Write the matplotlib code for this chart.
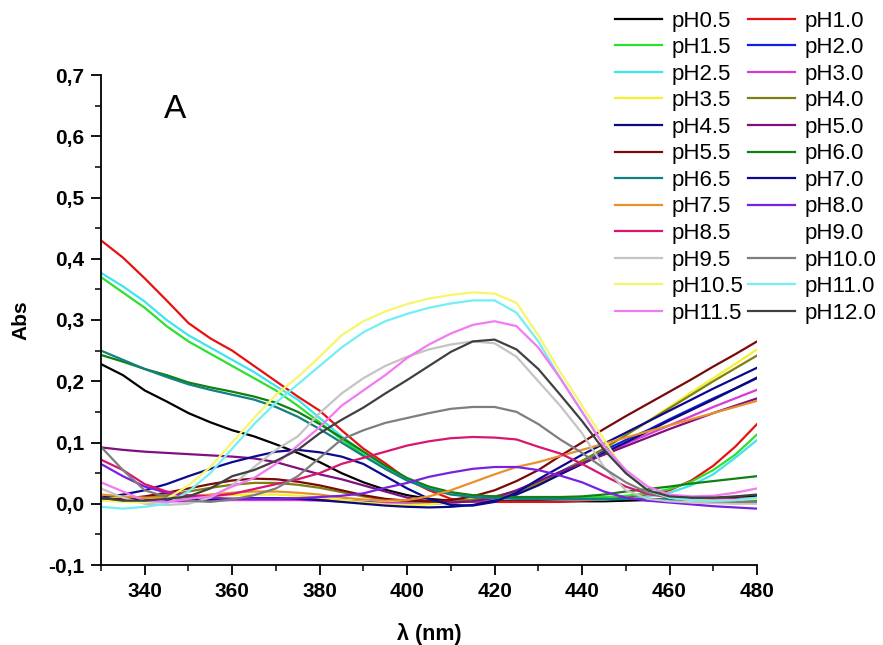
import matplotlib
matplotlib.use("Agg")
import matplotlib.pyplot as plt
from matplotlib.lines import Line2D
from matplotlib.ticker import MultipleLocator, FuncFormatter

plt.rcParams['font.family'] = ['Liberation Sans', 'DejaVu Sans']

# wavelength grid (nm)
wl = list(range(330, 485, 5))

# absorbance, one list per pH
ph05 = [0.228, 0.21, 0.185, 0.167, 0.148, 0.133, 0.12, 0.11, 0.097, 0.083, 0.068, 0.05, 0.035, 0.023, 0.014, 0.008,
        0.005, 0.004, 0.004, 0.004, 0.004, 0.004, 0.004, 0.004, 0.005, 0.006, 0.007, 0.008, 0.009, 0.011, 0.013]
ph10 = [0.43, 0.402, 0.368, 0.332, 0.295, 0.27, 0.25, 0.225, 0.20, 0.175, 0.152, 0.12, 0.09, 0.066, 0.04, 0.022,
        0.008, 0.004, 0.003, 0.003, 0.003, 0.003, 0.005, 0.007, 0.01, 0.015, 0.022, 0.038, 0.062, 0.093, 0.13]
ph15 = [0.37, 0.345, 0.32, 0.29, 0.265, 0.245, 0.225, 0.205, 0.185, 0.16, 0.133, 0.105, 0.08, 0.057, 0.038, 0.025,
        0.017, 0.013, 0.012, 0.011, 0.01, 0.01, 0.01, 0.011, 0.013, 0.017, 0.024, 0.036, 0.055, 0.08, 0.113]
ph20 = [0.01, 0.008, 0.006, 0.005, 0.005, 0.006, 0.007, 0.008, 0.008, 0.008, 0.007, 0.005, 0.003, 0.001, 0.0, 0.0,
        0.002, 0.004, 0.008, 0.02, 0.035, 0.052, 0.07, 0.087, 0.104, 0.12, 0.138, 0.155, 0.172, 0.188, 0.205]
ph25 = [0.377, 0.355, 0.33, 0.30, 0.275, 0.255, 0.235, 0.215, 0.192, 0.17, 0.14, 0.11, 0.085, 0.06, 0.04, 0.025,
        0.016, 0.012, 0.01, 0.009, 0.008, 0.007, 0.007, 0.007, 0.008, 0.012, 0.018, 0.03, 0.048, 0.075, 0.104]
ph30 = [0.006, 0.005, 0.004, 0.004, 0.004, 0.005, 0.006, 0.006, 0.006, 0.006, 0.005, 0.004, 0.002, 0.001, 0.0, 0.0,
        0.002, 0.004, 0.008, 0.018, 0.032, 0.048, 0.065, 0.082, 0.098, 0.113, 0.128, 0.143, 0.158, 0.172, 0.186]
ph35 = [0.012, 0.01, 0.008, 0.008, 0.01, 0.012, 0.014, 0.015, 0.015, 0.013, 0.01, 0.006, 0.002, -0.001, -0.002, -0.001,
        0.002, 0.006, 0.012, 0.02, 0.033, 0.05, 0.07, 0.09, 0.112, 0.135, 0.158, 0.182, 0.205, 0.228, 0.252]
ph40 = [0.008, 0.008, 0.01, 0.014, 0.02, 0.026, 0.031, 0.034, 0.034, 0.031, 0.026, 0.019, 0.012, 0.007, 0.004, 0.003,
        0.004, 0.007, 0.012, 0.02, 0.033, 0.05, 0.07, 0.09, 0.112, 0.134, 0.156, 0.178, 0.2, 0.221, 0.242]
ph45 = [0.008, 0.007, 0.006, 0.006, 0.006, 0.007, 0.008, 0.009, 0.009, 0.008, 0.006, 0.003, 0.0, -0.003, -0.005, -0.006,
        -0.005, -0.002, 0.005, 0.015, 0.03, 0.048, 0.065, 0.083, 0.1, 0.118, 0.136, 0.153, 0.17, 0.188, 0.206]
ph50 = [0.092, 0.088, 0.085, 0.083, 0.081, 0.079, 0.077, 0.074, 0.068, 0.058, 0.048, 0.04, 0.03, 0.02, 0.01, 0.004,
        0.002, 0.004, 0.01, 0.022, 0.037, 0.052, 0.066, 0.08, 0.094, 0.108, 0.122, 0.135, 0.148, 0.16, 0.172]
ph55 = [0.005, 0.008, 0.012, 0.018, 0.025, 0.032, 0.038, 0.041, 0.04, 0.036, 0.03, 0.022, 0.014, 0.008, 0.005, 0.004,
        0.006, 0.012, 0.022, 0.037, 0.055, 0.078, 0.1, 0.122, 0.143, 0.163, 0.183, 0.203, 0.224, 0.244, 0.265]
ph60 = [0.243, 0.232, 0.22, 0.21, 0.198, 0.19, 0.183, 0.175, 0.165, 0.15, 0.13, 0.108, 0.085, 0.062, 0.042, 0.028,
        0.019, 0.014, 0.012, 0.011, 0.011, 0.011, 0.012, 0.015, 0.02, 0.024, 0.028, 0.033, 0.037, 0.041, 0.045]
ph65 = [0.25, 0.235, 0.22, 0.207, 0.195, 0.186, 0.178, 0.17, 0.158, 0.142, 0.122, 0.1, 0.078, 0.057, 0.038, 0.024,
        0.015, 0.011, 0.009, 0.008, 0.008, 0.008, 0.008, 0.008, 0.008, 0.008, 0.007, 0.007, 0.006, 0.006, 0.006]
ph70 = [0.01, 0.015, 0.022, 0.032, 0.045, 0.057, 0.068, 0.077, 0.085, 0.088, 0.084, 0.077, 0.065, 0.045, 0.025, 0.008,
        -0.002, -0.003, 0.003, 0.018, 0.04, 0.06, 0.08, 0.098, 0.116, 0.134, 0.152, 0.17, 0.188, 0.205, 0.222]
ph75 = [0.015, 0.012, 0.01, 0.01, 0.012, 0.015, 0.018, 0.02, 0.02, 0.018, 0.015, 0.01, 0.007, 0.005, 0.006, 0.012,
        0.022, 0.035, 0.048, 0.06, 0.068, 0.078, 0.088, 0.098, 0.108, 0.118, 0.128, 0.138, 0.148, 0.158, 0.168]
ph80 = [0.065, 0.045, 0.028, 0.018, 0.012, 0.01, 0.008, 0.008, 0.008, 0.009, 0.011, 0.013, 0.017, 0.026, 0.034, 0.044,
        0.051, 0.057, 0.06, 0.06, 0.055, 0.046, 0.035, 0.02, 0.01, 0.005, 0.002, -0.001, -0.004, -0.006, -0.008]
ph85 = [0.072, 0.055, 0.032, 0.02, 0.014, 0.012, 0.016, 0.024, 0.032, 0.04, 0.05, 0.065, 0.075, 0.085, 0.095, 0.102,
        0.107, 0.109, 0.108, 0.105, 0.093, 0.082, 0.065, 0.046, 0.028, 0.016, 0.01, 0.008, 0.008, 0.008, 0.009]
ph95 = [0.025, 0.01, 0.0, -0.002, 0.0, 0.01, 0.03, 0.06, 0.088, 0.11, 0.148, 0.18, 0.205, 0.225, 0.24, 0.252,
        0.26, 0.265, 0.262, 0.24, 0.2, 0.16, 0.115, 0.06, 0.022, 0.008, 0.004, 0.002, 0.001, 0.0, 0.0]
ph100 = [0.093, 0.055, 0.022, 0.011, 0.005, 0.003, 0.007, 0.014, 0.025, 0.045, 0.075, 0.105, 0.12, 0.132, 0.14, 0.148,
         0.155, 0.158, 0.158, 0.15, 0.13, 0.105, 0.083, 0.058, 0.035, 0.018, 0.01, 0.006, 0.004, 0.003, 0.003]
ph105 = [0.005, 0.003, 0.002, 0.008, 0.03, 0.06, 0.1, 0.14, 0.178, 0.207, 0.24, 0.275, 0.298, 0.314, 0.326, 0.335,
         0.341, 0.345, 0.343, 0.328, 0.275, 0.215, 0.16, 0.105, 0.05, 0.022, 0.01, 0.006, 0.005, 0.006, 0.008]
ph110 = [-0.005, -0.008, -0.005, 0.0, 0.02, 0.05, 0.09, 0.13, 0.165, 0.195, 0.225, 0.255, 0.28, 0.298, 0.31, 0.32,
         0.327, 0.332, 0.332, 0.312, 0.265, 0.205, 0.15, 0.095, 0.05, 0.022, 0.01, 0.006, 0.005, 0.006, 0.01]
ph115 = [0.035, 0.02, 0.005, 0.003, 0.008, 0.012, 0.028, 0.042, 0.065, 0.095, 0.125, 0.16, 0.185, 0.21, 0.238, 0.26,
         0.278, 0.292, 0.298, 0.29, 0.255, 0.205, 0.15, 0.095, 0.055, 0.028, 0.015, 0.012, 0.013, 0.018, 0.025]
ph120 = [0.01, 0.005, 0.005, 0.008, 0.012, 0.025, 0.045, 0.055, 0.07, 0.088, 0.115, 0.137, 0.157, 0.18, 0.202, 0.225,
         0.248, 0.265, 0.268, 0.252, 0.22, 0.178, 0.135, 0.088, 0.05, 0.022, 0.012, 0.01, 0.01, 0.012, 0.015]

labels = ["pH0.5", "pH1.0", "pH1.5", "pH2.0", "pH2.5", "pH3.0", "pH3.5", "pH4.0",
          "pH4.5", "pH5.0", "pH5.5", "pH6.0", "pH6.5", "pH7.0", "pH7.5", "pH8.0",
          "pH8.5", "pH9.0", "pH9.5", "pH10.0", "pH10.5", "pH11.0", "pH11.5", "pH12.0"]
series = [ph05, ph10, ph15, ph20, ph25, ph30, ph35, ph40, ph45, ph50, ph55, ph60,
          ph65, ph70, ph75, ph80, ph85, None, ph95, ph100, ph105, ph110, ph115, ph120]
colors = ["#000000", "#e81010", "#2ee02e", "#1020e0", "#3ee4ee", "#d83ad8", "#f2f230", "#7f7f10",
          "#0a0a80", "#801080", "#7a0a0a", "#108010", "#108080", "#0a0a90", "#e8902e", "#7a20e0",
          "#d81670", "none", "#c4c4c4", "#7e7e7e", "#f6f66a", "#72eef4", "#f27af2", "#404040"]

fig = plt.figure(figsize=(8.83, 6.45), dpi=100)
ax = fig.add_axes([101 / 883, 1 - 565 / 645, 656 / 883, 490 / 645])

handles = []
for lab, ys, col in zip(labels, series, colors):
    if ys is None:
        # no visible trace for this one
        h = Line2D([], [], color=col, lw=1.6)
    else:
        h, = ax.plot(wl, ys, color=col, lw=1.6)
    h.set_label(lab)
    handles.append(h)

ax.set_xlim(330, 480)
ax.set_ylim(-0.1, 0.7)
ax.xaxis.set_major_locator(MultipleLocator(20))
ax.xaxis.set_minor_locator(MultipleLocator(10))
ax.yaxis.set_major_locator(MultipleLocator(0.1))
ax.yaxis.set_minor_locator(MultipleLocator(0.05))
ax.yaxis.set_major_formatter(FuncFormatter(lambda v, p: f"{v:.1f}".replace(".", ",").replace("-0,0", "0,0")))
ax.xaxis.set_major_formatter(FuncFormatter(lambda v, p: "" if v == 330 else f"{v:.0f}"))

for s in ["top", "right"]:
    ax.spines[s].set_visible(False)
for s in ["left", "bottom"]:
    ax.spines[s].set_linewidth(1.3)
ax.tick_params(which="major", direction="out", length=7, width=1.3, labelsize=15, pad=5)
ax.tick_params(which="minor", direction="out", length=4, width=1.1)
for t in ax.get_xticklabels() + ax.get_yticklabels():
    t.set_fontweight("bold")

ax.set_xlabel("λ (nm)", fontsize=15.5, fontweight="bold", labelpad=16)
ax.set_ylabel("Abs", fontsize=15, fontweight="bold", labelpad=13)
ax.text(347, 0.643, "A", fontsize=24, ha="center", va="center")

# two columns, filled row by row like the original
order = handles[0::2] + handles[1::2]
fig.legend(handles=order, labels=[h.get_label() for h in order], ncol=2, frameon=False,
           loc="upper right", bbox_to_anchor=(1.009, 1.006), fontsize=16,
           handlelength=2.1, handletextpad=0.45, columnspacing=0.2,
           labelspacing=0.25, borderpad=0.15)

fig.savefig("out.png", dpi=100)
